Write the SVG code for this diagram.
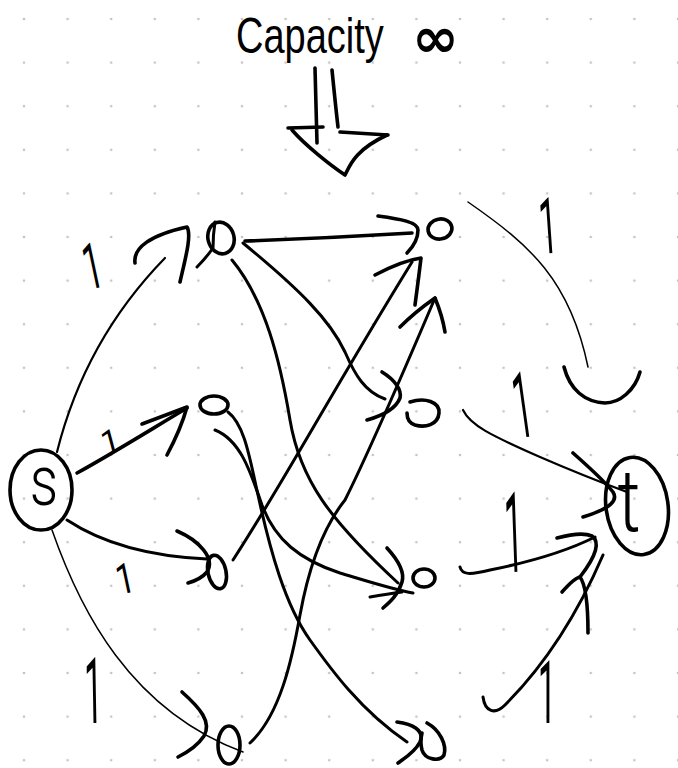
<svg xmlns="http://www.w3.org/2000/svg" width="678" height="768" viewBox="0 0 678 768">
<defs>
<pattern id="dots" x="2.2" y="-2.8" width="43.6" height="43.6" patternUnits="userSpaceOnUse"><circle cx="21.8" cy="21.8" r="1.3" fill="#c4c4c4"/></pattern>
</defs>
<style>
.k{fill:none;stroke:#000;stroke-linecap:round;stroke-linejoin:round}
.w1{stroke-width:1.5}.w2{stroke-width:2.2}.w3{stroke-width:3}.w4{stroke-width:3.6}
.hand{font-family:Roboto,"Liberation Sans",sans-serif;fill:#000}
.lab{font-size:40px;text-anchor:middle}
</style>
<rect width="678" height="768" fill="#fff"/>
<rect width="678" height="768" fill="url(#dots)"/>

<g id="title">
<text transform="translate(236,53) scale(0.76,1)" font-family="Liberation Sans, Arial, sans-serif" font-size="50" fill="#000">Capacity</text>
<text x="412" y="57" font-family="DejaVu Sans, sans-serif" font-weight="bold" font-size="56" fill="#000">∞</text>
</g>
<g id="capacity-arrow" class="k w4">
<path d="M315,68 L317,143"/>
<path d="M332,70 C334,90 336,110 338,127"/>
<path d="M288,128 L323,127"/>
<path d="M340,132 L388,135"/>
<path d="M292,130 C305,145 330,165 345,175 C350,165 355,150 387,135"/>
</g>

<g id="connectors">
<!-- s -> L1 -->
<path class="k w2" d="M57,452 Q85,340 165,258"/>
<path class="k w4" d="M135,263 C133,248 150,235 187,227 C192,235 185,260 180,282"/>
<!-- s -> L2 -->
<path class="k w4" d="M77,473 C110,455 150,430 187,408"/>
<path class="k w4" d="M142,424 L187,407 C182,425 175,440 167,455"/>
<!-- s -> L3 -->
<path class="k w3" d="M67,520 Q120,555 207,559"/>
<path class="k w4" d="M177,531 C198,540 216,558 207,572 C202,578 195,581 188,583"/>
<!-- s -> L4 -->
<path class="k w1" d="M52,530 C80,610 130,710 243,752"/>
<path class="k w4" d="M182,692 C200,708 212,722 204,736 C198,745 188,752 178,757"/>
<!-- L1 -> R1 -->
<path class="k w4" d="M245,241 Q330,238 412,233"/>
<path class="k w4" d="M378,216 C400,219 418,222 418,230 C418,240 412,248 407,253"/>
<!-- L1 -> R2 -->
<path class="k w3" d="M243,243 C300,290 330,320 345,352 C355,375 365,392 385,399"/>
<path class="k w4" d="M382,372 C395,380 402,390 400,398 C396,408 385,415 367,420"/>
<!-- L1 -> R3 -->
<path class="k w3" d="M232,260 C265,300 280,360 290,420 C300,480 330,520 398,583"/>
<!-- L2 -> R3 -->
<path class="k w3" d="M215,430 C240,440 250,470 262,505 C275,540 300,560 340,573 C370,582 395,590 413,593"/>
<path class="k w4" d="M387,548 C398,560 405,572 402,582 C398,595 390,602 383,608"/>
<path class="k w3" d="M370,597 C382,595 395,593 402,592"/>
<!-- L2 -> R4 -->
<path class="k w3" d="M228,412 C245,425 250,460 258,495 C270,550 285,605 310,640 C330,668 360,710 407,742"/>
<path class="k w4" d="M397,722 C412,724 425,730 420,742 C415,752 405,758 398,763"/>
<!-- L3 -> R1 -->
<path class="k w3" d="M233,560 C285,480 330,395 412,262"/>
<path class="k w4" d="M375,275 C392,266 407,260 421,258 C419,275 417,290 415,305"/>
<!-- L4 -> R1 -->
<path class="k w3" d="M250,743 C280,715 292,660 300,615 C310,560 325,525 345,500 C370,450 415,345 435,298"/>
<path class="k w4" d="M400,327 C412,315 425,305 435,298 C440,310 443,320 445,332"/>
<!-- R1 -> t -->
<path class="k w1" d="M468,202 C530,245 570,280 588,367"/>
<path class="k w4" d="M564,367 C570,390 585,402 605,403 C620,403 635,390 640,372"/>
<!-- R2 -> t -->
<path class="k w2" d="M463,410 C470,425 490,435 540,457 C570,470 600,482 627,492"/>
<path class="k w4" d="M573,453 C590,468 605,482 613,492 C618,500 612,508 583,517"/>
<!-- R3 -> t -->
<path class="k w3" d="M460,567 C462,575 470,575 490,570 C530,562 565,552 595,537"/>
<path class="k w4" d="M557,538 C572,534 585,533 592,536 C600,542 597,555 580,577"/>
<!-- R4 -> t -->
<path class="k w3" d="M483,697 C485,712 495,715 505,705 C540,670 575,620 603,555"/>
<path class="k w4" d="M562,592 C570,583 575,578 580,577 C586,585 588,605 588,633"/>
</g>

<g id="edge-labels" class="hand lab">
<text transform="translate(97,288) rotate(-12) scale(0.8,1.6)">1</text>
<text transform="translate(113,452) rotate(-15) scale(0.8,0.8)">1</text>
<text transform="translate(128,593) rotate(-12) scale(0.8,1.05)">1</text>
<text transform="translate(94,723) rotate(-1) scale(0.8,2.3)">1</text>
<text transform="translate(550,253) rotate(-4) scale(0.8,1.95)">1</text>
<text transform="translate(527,437) rotate(-8) scale(0.8,2.3)">1</text>
<text transform="translate(515,572) rotate(-2) scale(0.8,2.8)">1</text>
<text transform="translate(547,723) rotate(0) scale(0.8,2.2)">1</text>
</g>

<g id="node-s">
<ellipse class="k w4" cx="41" cy="490" rx="31" ry="40"/>
<text class="hand" font-weight="300" font-size="40" text-anchor="middle" transform="translate(44,505) scale(1.4,1.75)">s</text>
</g>
<g id="node-t">
<ellipse class="k w4" cx="637" cy="506" rx="31" ry="49" transform="rotate(-8 637 506)"/>
<text class="hand" font-weight="300" font-size="40" text-anchor="middle" transform="translate(629,531) scale(1.8,2.2)">t</text>
</g>
<g id="node-l1">
<ellipse class="k w4" cx="221" cy="238" rx="13" ry="16" transform="rotate(-15 221 238)"/>
<path class="k w3" d="M215,222 C213,235 213,245 213,248 C208,255 202,262 197,267"/>
</g>
<g id="node-l2">
<ellipse class="k w4" cx="214" cy="405" rx="14" ry="9"/>
</g>
<g id="node-l3">
<ellipse class="k w4" cx="217" cy="572" rx="9" ry="17" transform="rotate(-12 217 572)"/>
</g>
<g id="node-l4">
<ellipse class="k w4" cx="229" cy="745" rx="11" ry="19"/>
</g>
<g id="node-r1">
<ellipse class="k w4" cx="440" cy="229" rx="12" ry="10" transform="rotate(-10 440 229)"/>
</g>
<g id="node-r2">
<path class="k w4" d="M410,402 C425,397 440,402 439,413 C438,425 425,428 415,425 C409,423 407,418 407,413"/>
</g>
<g id="node-r3">
<ellipse class="k w4" cx="424" cy="578" rx="11" ry="9"/>
</g>
<g id="node-r4">
<path class="k w4" d="M427,723 C440,730 447,745 444,755 C440,762 425,760 422,750 C420,742 421,737 422,733"/>
</g>
</svg>
